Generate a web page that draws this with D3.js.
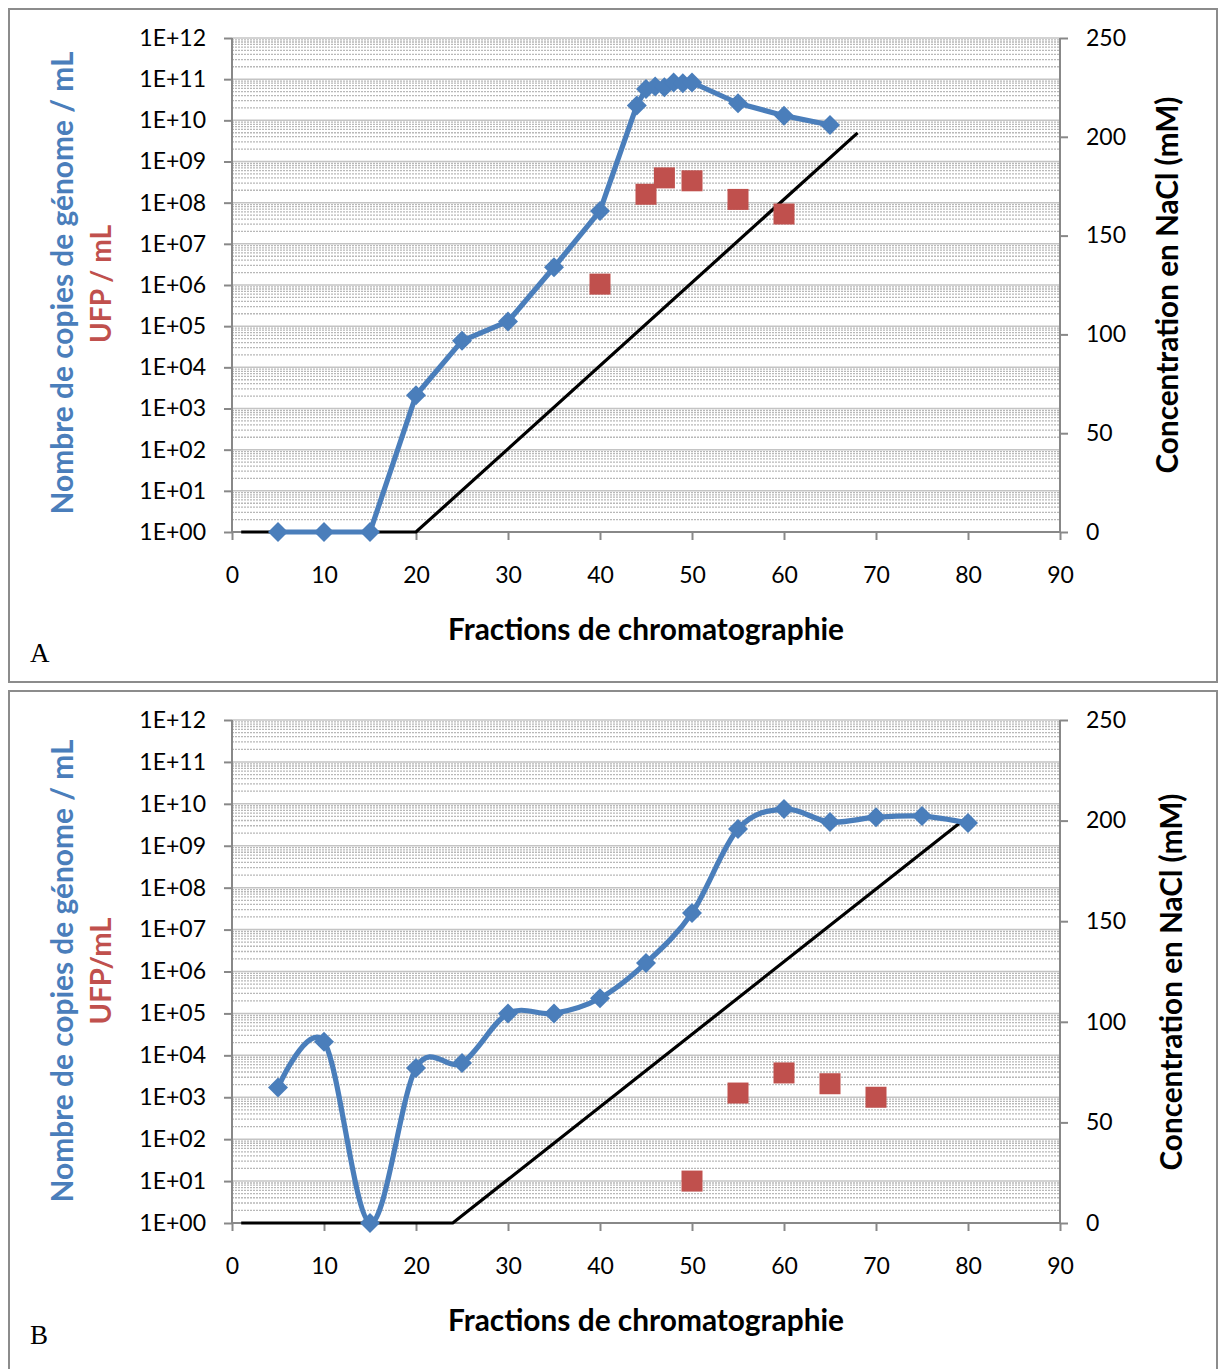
<!DOCTYPE html>
<html><head><meta charset="utf-8">
<script src="https://cdn.jsdelivr.net/npm/d3@7"></script>
<style>body{margin:0;background:#fff}svg{display:block}</style>
</head><body>
<svg id="c" width="1218" height="1369"></svg>
<script>
// ---------- DATA ----------
const xTicks = [0,10,20,30,40,50,60,70,80,90];
const yLeftTickLabels = ["1E+00","1E+01","1E+02","1E+03","1E+04","1E+05","1E+06","1E+07","1E+08","1E+09","1E+10","1E+11","1E+12"];
const yRightTicks = [0,50,100,150,200,250];

// Panel A
const genomeA_x = [5,10,15,20,25,30,35,40,44,45,46,47,48,49,50,55,60,65];
const genomeA_y = [1,1,1,2.1e3,4.4e4,1.3e5,2.7e6,6.3e7,2.3e10,5.8e10,6.6e10,6.4e10,8.3e10,8.0e10,8.3e10,2.6e10,1.3e10,7.7e9];
const ufpA_x = [40,45,47,50,55,60];
const ufpA_y = [1.05e6,1.6e8,4.0e8,3.4e8,1.2e8,5.3e7];
const naclA_x = [1,20,68];
const naclA_y = [0,0,202];

// Panel B
const genomeB_x = [5,10,15,20,25,30,35,40,45,50,55,60,65,70,75,80];
const genomeB_y = [1.7e3,2.1e4,1,5.0e3,6.6e3,1.0e5,1.0e5,2.3e5,1.6e6,2.5e7,2.5e9,7.5e9,3.7e9,4.8e9,5.1e9,3.5e9];
const ufpB_x = [50,55,60,65,70];
const ufpB_y = [10,1.26e3,3.8e3,2.1e3,1.0e3];
const naclB_x = [1,24,80];
const naclB_y = [0,0,202];

const panels = [
  {label:"A", top:9, bottom:682, plotTop:38, plotBottom:532,
   gx:genomeA_x, gy:genomeA_y, ux:ufpA_x, uy:ufpA_y, nx:naclA_x, ny:naclA_y, smooth:false,
   leftTitle2:"UFP / mL", t2len:118, titleRx:1168, midL:283, mid2:284, midR:285},
  {label:"B", top:691, bottom:1372, plotTop:720, plotBottom:1223,
   gx:genomeB_x, gy:genomeB_y, ux:ufpB_x, uy:ufpB_y, nx:naclB_x, ny:naclB_y, smooth:true,
   leftTitle2:"UFP/mL", t2len:107, titleRx:1172, midL:971, mid2:971, midR:982}
];

const BLUE="#4a7ebb", RED="#c0504d";
const svg = d3.select("#c");
const FONT = "Lato, 'Open Sans', sans-serif";

function fitText(t, len){
  const cur = t.node().getComputedTextLength();
  const fs = parseFloat(t.attr("font-size"));
  t.attr("font-size", (fs*len/cur).toFixed(2));
}

panels.forEach((p,pi)=>{
  const g = svg.append("g");
  g.append("rect").attr("x",9).attr("y",p.top).attr("width",1208).attr("height",p.bottom-p.top)
    .attr("fill","none").attr("stroke","#8c8c8c").attr("stroke-width",2);

  const x = d3.scaleLinear().domain([0,90]).range([232,1060]);
  const y = d3.scaleLog().domain([1,1e12]).range([p.plotBottom,p.plotTop]);
  const yr = d3.scaleLinear().domain([0,250]).range([p.plotBottom,p.plotTop]);

  const grid = g.append("g");
  for(let e=0;e<12;e++){
    for(let m=2;m<=9;m++){
      const v = m*Math.pow(10,e);
      grid.append("line").attr("x1",232).attr("x2",1060).attr("y1",y(v)).attr("y2",y(v))
        .attr("stroke","#b8b8b8").attr("stroke-width",1.3).attr("stroke-dasharray","2,1");
    }
  }
  for(let e=1;e<=12;e++){
    const v=Math.pow(10,e);
    grid.append("line").attr("x1",232).attr("x2",1060).attr("y1",y(v)).attr("y2",y(v))
      .attr("stroke","#c4c4c4").attr("stroke-width",1.5);
  }

  const axisColor="#888";
  const xAxis = g.append("g").attr("transform",`translate(0,${p.plotBottom})`)
    .call(d3.axisBottom(x).tickValues(xTicks).tickSize(8).tickPadding(27).tickFormat(d3.format("d")));
  const yAxis = g.append("g").attr("transform","translate(232,0)")
    .call(d3.axisLeft(y).tickValues(d3.range(13).map(e=>Math.pow(10,e))).tickSize(8).tickPadding(18)
      .tickFormat((d,i)=>yLeftTickLabels[i]));
  const yrAxis = g.append("g").attr("transform","translate(1060,0)")
    .call(d3.axisRight(yr).tickValues(yRightTicks).tickSize(8).tickPadding(18));
  [xAxis,yAxis,yrAxis].forEach(a=>{
    a.select(".domain").attr("stroke",axisColor).attr("stroke-width",2);
    a.selectAll(".tick line").attr("stroke",axisColor).attr("stroke-width",2);
    a.selectAll("text").attr("font-family",FONT).attr("font-size",23).attr("fill","#000");
  });
  xAxis.select(".domain").attr("d",`M232,0H1060`);
  yAxis.select(".domain").attr("d",`M0,${p.plotBottom}V${p.plotTop}`);
  yrAxis.select(".domain").attr("d",`M0,${p.plotBottom}V${p.plotTop}`);

  const nData = p.nx.map((v,i)=>[v,p.ny[i]]);
  g.append("path").datum(nData).attr("fill","none").attr("stroke","#000").attr("stroke-width",3.2)
    .attr("d",d3.line().x(d=>x(d[0])).y(d=>yr(d[1])));

  const gData = p.gx.map((v,i)=>[v,p.gy[i]]);
  g.append("path").datum(gData).attr("fill","none").attr("stroke",BLUE).attr("stroke-width",5.2)
    .attr("stroke-linejoin","round")
    .attr("d",d3.line().x(d=>x(d[0])).y(d=>y(d[1])).curve(p.smooth?d3.curveCardinal.tension(0):d3.curveLinear));
  g.selectAll(".dia").data(gData).join("path").attr("fill",BLUE)
    .attr("d",d=>{const cx=x(d[0]),cy=y(d[1]),r=10;return `M${cx},${cy-r}L${cx+r},${cy}L${cx},${cy+r}L${cx-r},${cy}Z`;});

  const uData = p.ux.map((v,i)=>[v,p.uy[i]]);
  g.selectAll(".sq").data(uData).join("rect").attr("fill",RED)
    .attr("x",d=>x(d[0])-10.5).attr("y",d=>y(d[1])-10.5).attr("width",21).attr("height",21);

  const xt = g.append("text").attr("x",646).attr("y",p.plotBottom+108).attr("text-anchor","middle")
    .attr("font-family",FONT).attr("font-weight","bold").attr("font-size",26).text("Fractions de chromatographie");
  fitText(xt,396);
  const lt1 = g.append("text").attr("transform",`translate(73,${p.midL}) rotate(-90)`).attr("text-anchor","middle")
    .attr("font-family",FONT).attr("font-weight","bold").attr("font-size",26).attr("fill",BLUE)
    .text("Nombre de copies de génome / mL");
  fitText(lt1,463);
  const lt2 = g.append("text").attr("transform",`translate(111,${p.mid2}) rotate(-90)`).attr("text-anchor","middle")
    .attr("font-family",FONT).attr("font-weight","bold").attr("font-size",26).attr("fill",RED)
    .text(p.leftTitle2);
  fitText(lt2,p.t2len);
  const rt = g.append("text").attr("transform",`translate(${p.titleRx+10},${p.midR}) rotate(-90)`).attr("text-anchor","middle")
    .attr("font-family",FONT).attr("font-weight","bold").attr("font-size",26).attr("fill","#000")
    .text("Concentration en NaCl (mM)");
  fitText(rt,377);

  g.append("text").attr("x",30).attr("y",pi===0?662:1344).attr("font-family","'Liberation Serif', 'DejaVu Serif', serif")
    .attr("font-size",27).text(p.label);
});
</script>
</body></html>
